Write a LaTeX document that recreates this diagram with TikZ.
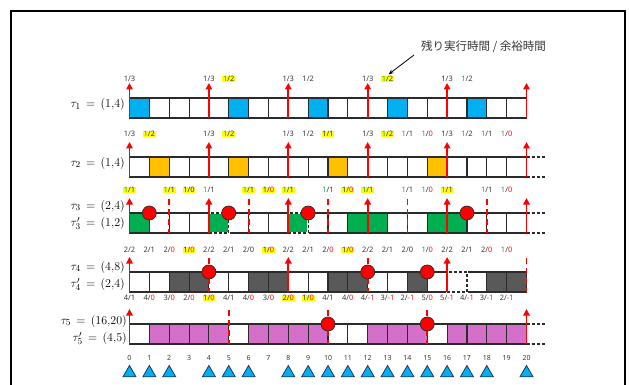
\documentclass[tikz,border=0pt]{standalone}
\usepackage{fontspec}
\usetikzlibrary{arrows.meta,shapes.geometric,calc}
\newfontfamily\labfamily{Noto Sans}
\newfontfamily\jpfamily{Noto Sans CJK JP}
\definecolor{tblue}{HTML}{00B0F0}
\definecolor{torange}{HTML}{FFC000}
\definecolor{tgreen}{HTML}{00B050}
\definecolor{tgray}{HTML}{595959}
\definecolor{tmag}{HTML}{D46FCA}
\definecolor{lgreen}{HTML}{1FA34A}
\definecolor{lred}{HTML}{FF1A1A}
\definecolor{txtgray}{HTML}{383838}
\definecolor{edgecol}{HTML}{2B2B2B}
\definecolor{tridark}{HTML}{1F3864}
\definecolor{hlyellow}{HTML}{FFFF00}
\newcommand\gn[1]{\textcolor{lgreen}{#1}}
\newcommand\rd[1]{\textcolor{lred}{#1}}
\newcommand\frc[2]{#1/#2}
\newcommand\tq{\mkern8mu{=}\mkern8mu}
\tikzset{
  cellst/.style={draw=edgecol, line width=1.1pt},
  dcell/.style={draw=edgecol, line width=1.1pt, dash pattern=on 3pt off 2pt},
  rarr/.style={draw=red, line width=1.8pt, -{Triangle[width=6.5pt,length=6.5pt]}},
  rdash/.style={draw=red, line width=1.8pt, dash pattern=on 6pt off 4pt},
  rcirc/.style={circle, fill=red, draw=edgecol, line width=0.7pt, minimum size=14pt, inner sep=0pt},
  lb/.style={font=\labfamily\fontsize{7.5}{9}\selectfont, text=txtgray, inner sep=0.7pt},
  hl/.style={lb, fill=hlyellow},
  numlab/.style={font=\labfamily\fontsize{7}{8}\selectfont, text=txtgray, inner sep=0.5pt},
  tri/.style={regular polygon, regular polygon sides=3, minimum size=15pt, inner sep=0pt, fill=tblue, draw=tridark, line width=0.8pt},
  tlab/.style={anchor=east, font=\fontsize{12.5}{14}\selectfont, inner sep=0pt},
}
% #1 top y, #2 colour, #3 filled cells
\newcommand\taskrow[3]{%
  \foreach \i in {0,...,19}{\path[cellst] (\i,#1) rectangle ++(1,20);}
  \foreach \i in {#3}{\path[cellst,fill=#2] (\i,#1) rectangle ++(1,20);}
}
% #1 cell, #2 top y, #3 colour
\newcommand\dashcell[3]{%
  \path[fill=#3, draw=white, line width=1.6pt] (#1,#2) rectangle ++(1,20);
  \path[dcell] (#1,#2) rectangle ++(1,20);
}
\newcommand\rowext[1]{\path[dcell] (20,#1) -- (21,#1) (20,{#1+20}) -- (21,{#1+20});}
% #1 top y, #2 list of times
\newcommand\rarrows[2]{\foreach \t in {#2}{\path[rarr] (\t,{#1+20}) -- (\t,{#1-15});}}
\newcommand\rdashes[2]{\foreach \t in {#2}{\path[rdash] (\t,{#1-14}) -- (\t,{#1+20});}}
\newcommand\rcircles[3]{\foreach \t in {#3}{\node[rcirc] (#1-\t) at (\t,#2) {};}}
% #1 name prefix, #2 y, #3 list t/text/style
\newcommand\labrow[3]{\foreach \t/\tx/\st in {#3}{\node[\st] (#1-\t) at (\t,#2) {\tx};}}
\begin{document}
\begin{tikzpicture}[x=1pt,y=-1pt]
\useasboundingbox (0,0) rectangle (629,385);
\fill[white] (0,0) rectangle (629,385);
\draw[line width=1.3pt] (11,11) rectangle (625,400);

% task labels
\node[tlab] (L1) at (125,105) {$\tau_1\tq(1{,}4)$};
\node[tlab] (L2) at (125,163) {$\tau_2\tq(1{,}4)$};
\node[tlab] (L3a) at (125,206) {$\tau_3\tq(2{,}4)$};
\node[tlab] (L3b) at (125,223.5) {$\tau'_3\tq(1{,}2)$};
\node[tlab] (L4a) at (125,267) {$\tau_4\tq(4{,}8)$};
\node[tlab] (L4b) at (125,284.5) {$\tau'_4\tq(2{,}4)$};
\node[tlab] (L5a) at (127,321) {$\tau_5\tq(16{,}20)$};
\node[tlab] (L5b) at (127,338.5) {$\tau'_5\tq(4{,}5)$};

\begin{scope}[shift={(129.5,0)}, x=19.85pt]
% rows
\taskrow{98}{tblue}{0,5,9,13,17}
\taskrow{157}{torange}{1,5,10,15}
\rowext{157}
\taskrow{213}{tgreen}{0,11,12,15,16}
\dashcell{4}{213}{tgreen}
\dashcell{8}{213}{tgreen}
\rowext{213}
\taskrow{272}{tgray}{2,3,6,7,10,11,14,18,19}
\dashcell{16}{272}{white}
\taskrow{324}{tmag}{1,2,3,4,6,7,8,9,12,13,14,16,17,18,19}
\rowext{324}

% releases and deadlines
\rarrows{98}{0,4,8,12,16,20}
\rarrows{157}{0,4,8,12,16,20}
\rdashes{213}{2,6,10,14,18}
\rarrows{213}{0,4,8,12,16,20}
\rdashes{272}{4,12,20}
\rarrows{272}{0,8,16}
\rdashes{324}{5,10,15}
\rarrows{324}{0,20}

\rcircles{c3}{213}{1,5,9,17}
\rcircles{c4}{272}{4,12,15}
\rcircles{c5}{324}{10,15}

% value labels
\labrow{a1}{79}{0/\frc{1}{3}/lb, 4/\frc{1}{3}/lb, 5/\frc{\gn{1}}{2}/hl, 8/\frc{1}{3}/lb, 9/\frc{1}{2}/lb, 12/\frc{1}{3}/lb, 13/\frc{\gn{1}}{2}/hl, 16/\frc{1}{3}/lb, 17/\frc{\gn{1}}{2}/lb}
\labrow{a2}{134}{0/\frc{1}{3}/lb, 1/\frc{\gn{1}}{2}/hl, 4/\frc{1}{3}/lb, 5/\frc{\gn{1}}{2}/hl, 8/\frc{1}{3}/lb, 9/\frc{1}{2}/lb, 10/\frc{1}{1}/hl, 12/\frc{1}{3}/lb, 13/\frc{\gn{1}}{2}/hl, 14/\frc{\gn{1}}{1}/lb, 15/\frc{\gn{1}}{\rd{0}}/lb, 16/\frc{1}{3}/lb, 17/\frc{\gn{1}}{2}/lb, 18/\frc{\gn{1}}{1}/lb, 19/\frc{\gn{1}}{\rd{0}}/lb}
\labrow{a3}{190}{0/\frc{\gn{1}}{1}/hl, 2/\frc{\gn{1}}{1}/hl, 3/\frc{1}{0}/hl, 4/\frc{\gn{1}}{1}/lb, 6/\frc{\gn{1}}{1}/hl, 7/\frc{1}{\rd{0}}/hl, 8/\frc{\gn{1}}{1}/hl, 10/\frc{\gn{1}}{1}/lb, 11/\frc{1}{\rd{0}}/hl, 12/\frc{\gn{1}}{1}/hl, 14/\frc{\gn{1}}{1}/lb, 15/\frc{\gn{1}}{\rd{0}}/lb, 16/\frc{\gn{1}}{1}/hl, 18/\frc{\gn{1}}{1}/lb, 19/\frc{\gn{1}}{\rd{0}}/lb}
\labrow{b3}{250}{0/\frc{2}{2}/lb, 1/\frc{2}{1}/lb, 2/\frc{2}{\rd{0}}/lb, 3/\frc{1}{\rd{0}}/hl, 4/\frc{2}{2}/lb, 5/\frc{2}{1}/lb, 6/\frc{2}{0}/lb, 7/\frc{1}{\rd{0}}/hl, 8/\frc{2}{2}/lb, 9/\frc{2}{1}/lb, 10/\frc{2}{\rd{0}}/lb, 11/\frc{1}{\rd{0}}/hl, 12/\frc{2}{2}/lb, 13/\frc{2}{1}/lb, 14/\frc{2}{0}/lb, 15/\frc{\gn{1}}{\rd{0}}/lb, 16/\frc{2}{2}/lb, 17/\frc{2}{1}/lb, 18/\frc{2}{\rd{0}}/lb, 19/\frc{\gn{1}}{\rd{0}}/lb}
\labrow{b4}{298}{0/\frc{4}{1}/lb, 1/\frc{4}{\rd{0}}/lb, 2/\frc{3}{\rd{0}}/lb, 3/\frc{2}{\rd{0}}/lb, 4/\frc{1}{\rd{0}}/hl, 5/\frc{4}{1}/lb, 6/\frc{4}{\rd{0}}/lb, 7/\frc{3}{\rd{0}}/lb, 8/\frc{2}{\rd{0}}/hl, 9/\frc{1}{\rd{0}}/hl, 10/\frc{4}{1}/lb, 11/\frc{4}{\rd{0}}/lb, 12/\frc{4}{\rd{-1}}/lb, 13/\frc{3}{\rd{-1}}/lb, 14/\frc{2}{\rd{-1}}/lb, 15/\frc{5}{\rd{0}}/lb, 16/\frc{5}{\rd{-1}}/lb, 17/\frc{4}{\rd{-1}}/lb, 18/\frc{3}{\rd{-1}}/lb, 19/\frc{2}{\rd{-1}}/lb}

% time axis
\foreach \t in {0,...,20}{\node[numlab] (n\t) at (\t,358) {\t};}
\foreach \t in {0,1,2,4,5,6,8,9,10,11,12,13,14,15,16,17,18,20}{\node[tri] (tr\t) at (\t,373) {};}
\end{scope}

% annotation
\node[anchor=west, font=\jpfamily\fontsize{11.5}{13}\selectfont, text=txtgray, inner sep=0pt] (note) at (421,47) {残り実行時間 / 余裕時間};
\coordinate (nstart) at (414,55);
\draw[line width=0.8pt, -{Stealth[length=5pt,width=4pt]}] (nstart) -- ($(a1-13.north)+(1,-1)$);
\end{tikzpicture}
\end{document}
